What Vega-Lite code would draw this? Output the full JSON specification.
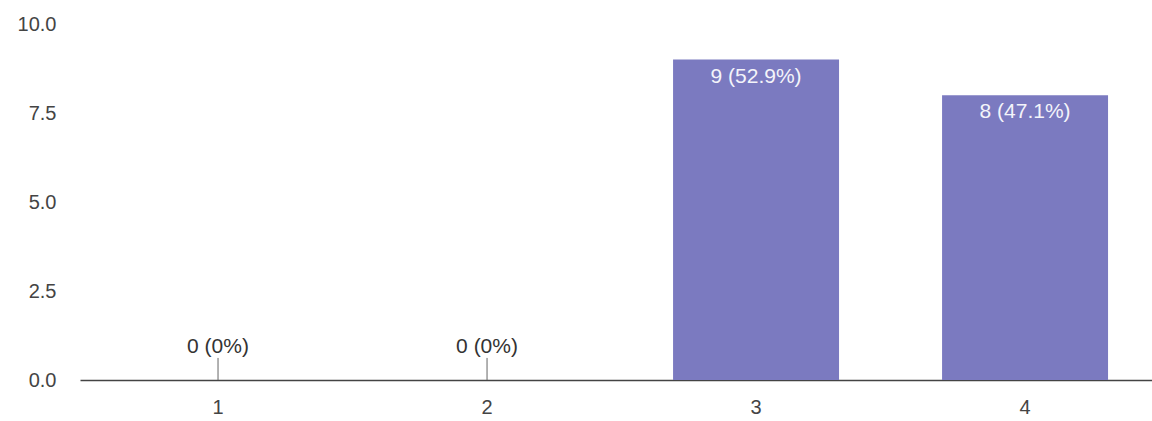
{
  "$schema": "https://vega.github.io/schema/vega-lite/v6.json",
  "autosize": "none",
  "width": 1072,
  "height": 356,
  "padding": {"left": 80, "top": 24, "right": 0, "bottom": 41},
  "background": "white",
  "config": {"view": {"stroke": null}, "font": "Liberation Sans"},
  "data": {"values": [
    {"rating": "1", "count": 0, "label": "0 (0%)"},
    {"rating": "2", "count": 0, "label": "0 (0%)"},
    {"rating": "3", "count": 9, "label": "9 (52.9%)"},
    {"rating": "4", "count": 8, "label": "8 (47.1%)"}
  ]},
  "encoding": {
    "x": {"field": "rating", "type": "nominal", "sort": null,
      "scale": {"paddingInner": 0.383, "paddingOuter": 0.184, "align": 0.556},
      "axis": {"title": null, "labelAngle": 0, "ticks": false, "labelPadding": 17, "labelFontSize": 20, "labelColor": "#444", "domainColor": "#444", "domainWidth": 1.5}}
  },
  "layer": [
    {"mark": {"type": "bar", "color": "#7b7ac0"},
     "encoding": {"y": {"field": "count", "type": "quantitative",
       "scale": {"domain": [0, 10]},
       "axis": {"title": null, "values": [0, 2.5, 5, 7.5, 10], "format": ".1f", "grid": false, "domain": false, "ticks": false, "labelPadding": 24, "labelFontSize": 20, "labelColor": "#444"}}}},
    {"transform": [{"filter": "datum.count > 0"}],
     "mark": {"type": "text", "baseline": "top", "dy": 6, "color": "#f4f4fa", "fontSize": 21},
     "encoding": {"y": {"field": "count", "type": "quantitative"}, "text": {"field": "label"}}},
    {"transform": [{"filter": "datum.count == 0"}],
     "mark": {"type": "rule", "color": "#666", "strokeWidth": 1},
     "encoding": {"y": {"field": "count", "type": "quantitative"}, "y2": {"datum": 0.62}}},
    {"transform": [{"filter": "datum.count == 0"}],
     "mark": {"type": "text", "baseline": "middle", "dy": -33, "color": "#333", "fontSize": 21},
     "encoding": {"y": {"field": "count", "type": "quantitative"}, "text": {"field": "label"}}}
  ]
}
